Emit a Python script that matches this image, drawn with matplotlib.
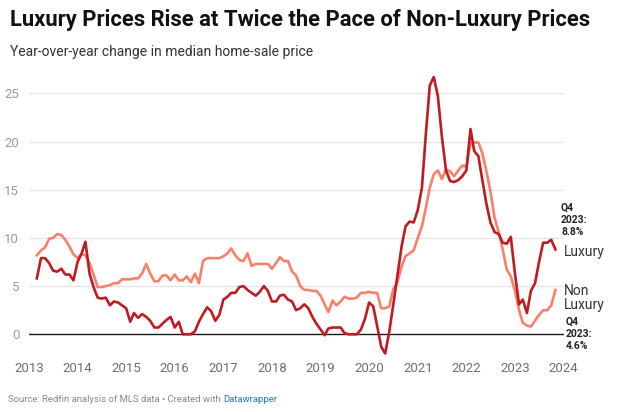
import pandas as pd
import matplotlib.pyplot as plt
import matplotlib.dates as mdates

plt.rcParams['font.family'] = ['Roboto', 'DejaVu Sans']

# monthly readings, Mar 2013 .. Nov 2023
months = pd.date_range('2013-03-01', periods=129, freq='MS')

luxury = [
    5.8, 7.9, 7.9, 7.4, 6.6, 6.5, 6.8, 6.2, 6.2, 5.6,
    7.5, 8.4, 9.6, 6.3, 4.9, 3.8, 3.7, 3.8, 3.0, 3.4, 3.3, 3.0,
    2.7, 1.3, 2.2, 1.7, 2.1, 1.8, 1.4, 0.7, 0.7, 1.1, 1.5, 1.8,
    0.7, 1.3, 0.0, 0.0, 0.0, 0.3, 1.3, 2.1, 2.8, 2.4, 1.4, 2.0,
    3.6, 3.9, 4.3, 4.3, 4.9, 5.0, 4.6, 4.3, 4.0, 4.4, 5.0, 4.5,
    3.4, 3.4, 4.0, 4.1, 3.6, 3.4, 2.5, 2.7, 3.1, 2.7, 1.8, 1.1,
    0.5, -0.1, 0.6, 0.7, 0.7, 0.7, 0.1, 0.0, 0.0, 0.0, 0.5, 1.6,
    3.3, 2.9, 0.9, -1.3, -2.0, 0.3, 3.1, 6.1, 9.1, 11.2, 11.7, 11.6,
    12.9, 15.2, 20.5, 25.8, 26.7, 24.7, 20.5, 17.0, 15.9, 15.8, 16.0, 16.4,
    17.0, 21.3, 19.0, 18.5, 16.0, 13.5, 11.6, 10.6, 10.4, 9.5, 9.4, 10.1,
    6.3, 3.1, 3.6, 2.2, 4.5, 5.3, 7.5, 9.5, 9.5, 9.8, 8.8,
]

non_luxury = [
    8.2, 8.7, 9.0, 9.9, 10.0, 10.4, 10.3, 9.8, 9.1, 8.3,
    7.9, 8.3, 8.2, 7.4, 6.2, 4.9, 4.9, 5.0, 5.1, 5.3, 5.3, 5.7,
    5.7, 5.7, 5.8, 5.8, 6.3, 7.3, 6.3, 5.5, 5.5, 6.1, 6.1, 5.6,
    6.2, 5.6, 5.6, 6.0, 5.4, 6.3, 5.3, 7.6, 7.9, 7.9, 7.9, 7.9,
    8.1, 8.4, 8.9, 8.2, 7.7, 7.6, 8.4, 7.1, 7.3, 7.3, 7.3, 7.3,
    6.8, 7.4, 8.0, 7.6, 7.6, 6.5, 6.1, 5.0, 4.6, 4.6, 4.5, 4.5,
    4.0, 3.1, 2.3, 3.5, 3.0, 3.4, 3.9, 3.7, 3.7, 3.8, 4.3, 4.3,
    4.4, 4.3, 4.3, 2.7, 2.7, 2.9, 4.7, 5.4, 7.0, 8.1, 8.4, 8.7,
    10.0, 11.2, 13.0, 15.2, 16.6, 17.0, 16.1, 17.1, 16.9, 16.4, 17.0, 17.5,
    17.4, 19.8, 19.9, 19.9, 18.8, 16.9, 14.8, 12.1, 10.6, 8.8, 6.7, 6.0,
    4.5, 2.5, 1.2, 0.9, 0.8, 1.4, 2.0, 2.5, 2.5, 3.0, 4.6,
]

yticks = [0, 5, 10, 15, 20, 25]

fig = plt.figure(figsize=(6.17, 4.12), dpi=100)
ax = fig.add_axes([29 / 617, 52 / 412, 534.5 / 617, 290 / 412])

ax.plot(months, non_luxury, color='#fa806a', lw=1.9, solid_joinstyle='round', zorder=3)
ax.plot(months, luxury, color='#c01b21', lw=1.9, solid_joinstyle='round', zorder=4)

ax.set_xlim(pd.Timestamp('2013-01-01'), pd.Timestamp('2024-01-01'))
ax.set_ylim(-2.67, 27.42)
ax.set_yticks(yticks)
for v in yticks[1:]:
    ax.axhline(v, color='#e3e3e3', lw=0.9, zorder=1)
ax.axhline(0, color='#1a1a1a', lw=1.0, zorder=2)

ax.xaxis.set_major_locator(mdates.YearLocator())
ax.xaxis.set_major_formatter(mdates.DateFormatter('%Y'))
ax.tick_params(axis='x', length=0, pad=1.5, labelsize=9.5, labelcolor='#6e6e6e')
ax.tick_params(axis='y', length=0, pad=7, labelsize=9.5, labelcolor='#9a9a9a')
for s in ax.spines.values():
    s.set_visible(False)

# end labels
fig.text(561 / 617, 1 - 203 / 412, 'Q4\n2023:\n8.8%', fontsize=7.4, fontweight='bold',
         color='#222222', va='top', ha='left', linespacing=1.25)
fig.text(564 / 617, 1 - 252 / 412, 'Luxury', fontsize=10, color='#333333',
         va='center', ha='left')
fig.text(564 / 617, 1 - 298 / 412, 'Non\nLuxury', fontsize=10, color='#333333',
         va='center', ha='left', linespacing=1.0)
fig.text(566 / 617, 1 - 317 / 412, 'Q4\n2023:\n4.6%', fontsize=7.4, fontweight='bold',
         color='#222222', va='top', ha='left', linespacing=1.25)

fig.text(10 / 617, 1 - 20 / 412, 'Luxury Prices Rise at Twice the Pace of Non-Luxury Prices',
         fontsize=15.8, fontweight='bold', color='#111111', va='center', ha='left')
fig.text(10 / 617, 1 - 52 / 412, 'Year-over-year change in median home-sale price',
         fontsize=10.0, color='#333333', va='center', ha='left')

src = fig.text(8 / 617, 1 - 400 / 412, 'Source: Redfin analysis of MLS data \u2022 Created with ',
               fontsize=6.8, color='#888888', va='center', ha='left')
fig.canvas.draw()
bb = src.get_window_extent()
fig.text(bb.x1 / fig.bbox.width, 1 - 400 / 412, 'Datawrapper', fontsize=6.8,
         color='#1d81a2', va='center', ha='left')

fig.savefig('out.png', dpi=100)
